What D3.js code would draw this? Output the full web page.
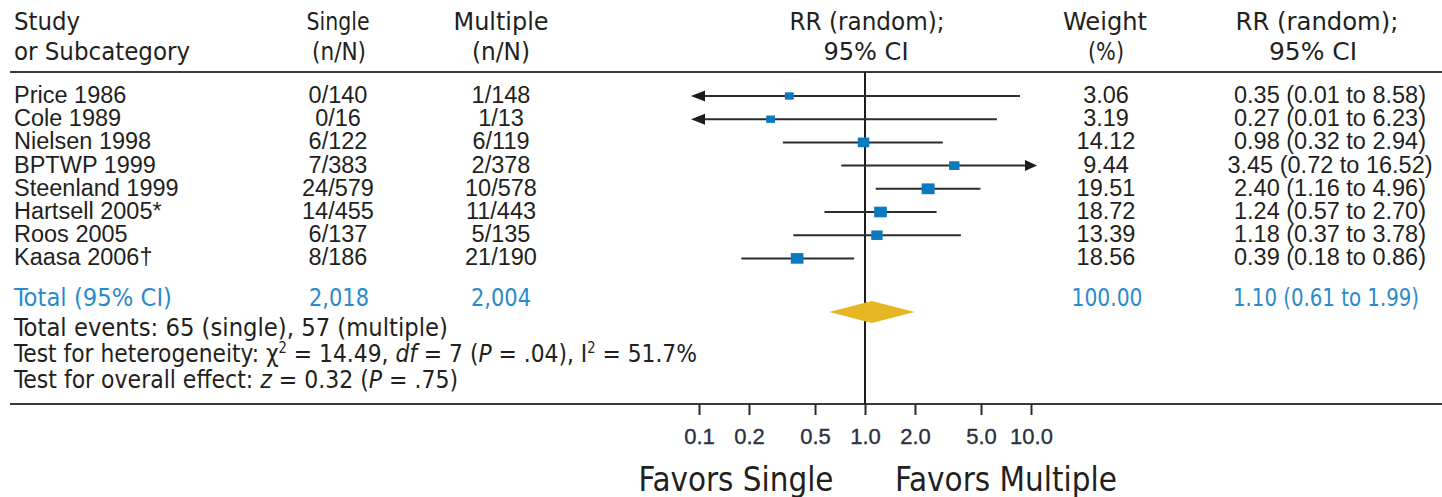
<!DOCTYPE html>
<html>
<head>
<meta charset="utf-8">
<script src="https://cdn.jsdelivr.net/npm/d3@7/dist/d3.min.js"></script>
<style>
  html, body { margin: 0; padding: 0; background: #fff; }
  svg { display: block; }
  .reg { font-family: "Liberation Sans", Arial, Helvetica, sans-serif; }
  .cond { font-family: "Liberation Sans Narrow", "DejaVu Sans Condensed", "Liberation Sans", Arial, sans-serif; }
</style>
</head>
<body>
<svg id="chart" width="1442" height="497"></svg>
<script>
// ---- data ----
const studies   = ["Price 1986", "Cole 1989", "Nielsen 1998", "BPTWP 1999", "Steenland 1999", "Hartsell 2005*", "Roos 2005", "Kaasa 2006\u2020"];
const singleNN  = ["0/140", "0/16", "6/122", "7/383", "24/579", "14/455", "6/137", "8/186"];
const multipleNN= ["1/148", "1/13", "6/119", "2/378", "10/578", "11/443", "5/135", "21/190"];
const rr        = [0.35, 0.27, 0.98, 3.45, 2.40, 1.24, 1.18, 0.39];
const ciLow     = [0.01, 0.01, 0.32, 0.72, 1.16, 0.57, 0.37, 0.18];
const ciHigh    = [8.58, 6.23, 2.94, 16.52, 4.96, 2.70, 3.78, 0.86];
const weights   = [3.06, 3.19, 14.12, 9.44, 19.51, 18.72, 13.39, 18.56];

const totalLabels = ["Total (95% CI)", "2,018", "2,004"];
const totalWeight = 100.00;
const totalRR     = [1.10, 0.61, 1.99]; // estimate, low, high

const tickValues = [0.1, 0.2, 0.5, 1, 2, 5, 10];
const tickLabels = ["0.1", "0.2", "0.5", "1.0", "2.0", "5.0", "10.0"];
const plotLimits = [0.0895, 10.87]; // CI lines beyond these are drawn as arrows

// ---- layout ----
const W = 1442, H = 497;
const C = { ink: "#231f20", blue: "#2a8bcb", square: "#0b79c0", diamond: "#e5b722", line: "#2c2c2c" };
const colX = { study: 14, single: 338, multiple: 501, forest: 864, weight: 1106, ci: 1330 };
const ruleTop = 72, ruleBottom = 404;

const svg = d3.select("#chart");

const x = d3.scaleLog().domain([0.1, 10]).range([699, 1031]);
const y = d3.scaleLinear().domain([0, studies.length - 1]).range([96, 258.4]);
const sq = d3.scaleLinear().domain([0, 20]).range([8, 13]);

const fmt2 = d3.format(".2f");

// condensed text helper: fixed rendered width via textLength
function condText(g, str, px, py, size, width, anchor, fill) {
  return g.append("text").attr("class", "cond")
    .attr("x", px).attr("y", py)
    .attr("font-size", size)
    .attr("text-anchor", anchor || "start")
    .attr("fill", fill || C.ink)
    .attr("textLength", width).attr("lengthAdjust", "spacingAndGlyphs")
    .text(str);
}

// ---- header ----
const head = svg.append("g");
condText(head, "Study", colX.study, 30, 25, 66);
condText(head, "or Subcategory", colX.study, 60, 25, 176);
condText(head, "Single", colX.single, 30, 25, 63, "middle");
condText(head, "(n/N)", colX.single + 1, 60, 25, 54, "middle");
condText(head, "Multiple", colX.multiple, 30, 25, 95, "middle");
condText(head, "(n/N)", colX.multiple, 60, 25, 58, "middle");
condText(head, "RR (random);", 867, 30, 25, 155, "middle");
condText(head, "95% CI", 866, 60, 25, 85, "middle");
condText(head, "Weight", colX.weight - 1, 30, 25, 84, "middle");
condText(head, "(%)", colX.weight, 60, 25, 36, "middle");
condText(head, "RR (random);", 1317, 30, 25, 163, "middle");
condText(head, "95% CI", 1313, 60, 25, 88, "middle");

// horizontal rules
svg.append("line").attr("x1", 10).attr("x2", W).attr("y1", ruleTop).attr("y2", ruleTop)
  .attr("stroke", "#3a3a3a").attr("stroke-width", 2.2);
svg.append("line").attr("x1", 10).attr("x2", W).attr("y1", ruleBottom).attr("y2", ruleBottom)
  .attr("stroke", "#3a3a3a").attr("stroke-width", 2);

// line of no effect
svg.append("line").attr("x1", x(1)).attr("x2", x(1)).attr("y1", ruleTop).attr("y2", ruleBottom)
  .attr("stroke", "#1d1d1d").attr("stroke-width", 2);

// ---- study rows ----
const rows = svg.append("g").selectAll("g").data(studies).join("g")
  .attr("transform", (d, i) => `translate(0,${y(i)})`);

const rowText = (sel, fn, px, anchor) => sel.append("text").attr("class", "reg")
  .attr("x", px).attr("y", 7).attr("font-size", 23.5).attr("fill", C.ink)
  .attr("text-anchor", anchor).text(fn);

rowText(rows, d => d, colX.study, "start");
rowText(rows, (d, i) => singleNN[i], colX.single, "middle");
rowText(rows, (d, i) => multipleNN[i], colX.multiple, "middle");
rowText(rows, (d, i) => fmt2(weights[i]), colX.weight, "middle");
rowText(rows, (d, i) => `${fmt2(rr[i])} (${fmt2(ciLow[i])} to ${fmt2(ciHigh[i])})`, colX.ci, "middle");

// confidence intervals, clipped to the plotted range with arrowheads
const loX = i => x(Math.max(ciLow[i], plotLimits[0]));
const hiX = i => x(Math.min(ciHigh[i], plotLimits[1]));

rows.append("line")
  .attr("x1", (d, i) => loX(i) + (ciLow[i] < plotLimits[0] ? 8 : 0))
  .attr("x2", (d, i) => hiX(i) - (ciHigh[i] > plotLimits[1] ? 8 : 0))
  .attr("y1", 0).attr("y2", 0)
  .attr("stroke", C.line).attr("stroke-width", 2);

rows.filter((d, i) => ciLow[i] < plotLimits[0]).append("path")
  .attr("d", (d) => { const i = studies.indexOf(d), t = loX(i); return `M${t},0L${t + 14},-5.5L${t + 14},5.5Z`; })
  .attr("fill", "#1d1d1d");
rows.filter((d, i) => ciHigh[i] > plotLimits[1]).append("path")
  .attr("d", (d) => { const i = studies.indexOf(d), t = hiX(i); return `M${t},0L${t - 12},-5.5L${t - 12},5.5Z`; })
  .attr("fill", "#1d1d1d");

// point estimates, sized by weight
rows.append("rect")
  .attr("x", (d, i) => x(rr[i]) - sq(weights[i]) / 2)
  .attr("y", (d, i) => -sq(weights[i]) * 0.42)
  .attr("width", (d, i) => sq(weights[i]))
  .attr("height", (d, i) => sq(weights[i]) * 0.84)
  .attr("fill", C.square);

// ---- pooled estimate ----
const totY = 312;
const tot = svg.append("g");
condText(tot, totalLabels[0], colX.study, 306, 25, 158, "start", C.blue);
condText(tot, totalLabels[1], colX.single + 1, 306, 25, 60, "middle", C.blue);
condText(tot, totalLabels[2], colX.multiple, 306, 25, 60, "middle", C.blue);
condText(tot, fmt2(totalWeight), 1107, 306, 25, 71, "middle", C.blue);
condText(tot, `${fmt2(totalRR[0])} (${fmt2(totalRR[1])} to ${fmt2(totalRR[2])})`, 1326, 306, 25, 186, "middle", C.blue);

tot.append("path")
  .attr("d", `M${x(totalRR[1])},${totY}L${x(totalRR[0])},${totY - 11}L${x(totalRR[2])},${totY}L${x(totalRR[0])},${totY + 11}Z`)
  .attr("fill", C.diamond);

// ---- summary statistics ----
const notes = svg.append("g").attr("class", "cond").attr("fill", C.ink).attr("font-size", 25);
notes.append("text").attr("x", colX.study).attr("y", 336)
  .attr("textLength", 434).attr("lengthAdjust", "spacingAndGlyphs")
  .text("Total events: 65 (single), 57 (multiple)");

const het = notes.append("text").attr("x", colX.study).attr("y", 362)
  .attr("textLength", 683).attr("lengthAdjust", "spacingAndGlyphs");
het.append("tspan").text("Test for heterogeneity: \u03C7");
het.append("tspan").attr("font-size", 15).attr("dy", -9).text("2");
het.append("tspan").attr("dy", 9).text(" = 14.49, ");
het.append("tspan").attr("font-style", "italic").text("df");
het.append("tspan").text(" = 7 (");
het.append("tspan").attr("font-style", "italic").text("P");
het.append("tspan").text(" = .04), I");
het.append("tspan").attr("font-size", 15).attr("dy", -9).text("2");
het.append("tspan").attr("dy", 9).text(" = 51.7%");

const ovr = notes.append("text").attr("x", colX.study).attr("y", 388)
  .attr("textLength", 444).attr("lengthAdjust", "spacingAndGlyphs");
ovr.append("tspan").text("Test for overall effect: ");
ovr.append("tspan").attr("font-style", "italic").text("z");
ovr.append("tspan").text(" = 0.32 (");
ovr.append("tspan").attr("font-style", "italic").text("P");
ovr.append("tspan").text(" = .75)");

// ---- axis ----
const axis = d3.axisBottom(x)
  .tickValues(tickValues)
  .tickFormat((d, i) => tickLabels[i])
  .tickSize(11).tickSizeOuter(0).tickPadding(13);
const ax = svg.append("g").attr("transform", `translate(0,${ruleBottom})`).call(axis);
ax.select(".domain").remove();
ax.selectAll(".tick line").attr("stroke", "#2a2a2a").attr("stroke-width", 2);
ax.selectAll(".tick text")
  .attr("class", "reg").attr("font-size", 22).attr("fill", "#2b3043")
  .attr("stroke", "#2b3043").attr("stroke-width", 0.35);

// direction labels
const fav = svg.append("g");
condText(fav, "Favors Single", 736, 491, 33, 195, "middle");
condText(fav, "Favors Multiple", 1006, 491, 33, 222, "middle");
</script>
</body>
</html>
